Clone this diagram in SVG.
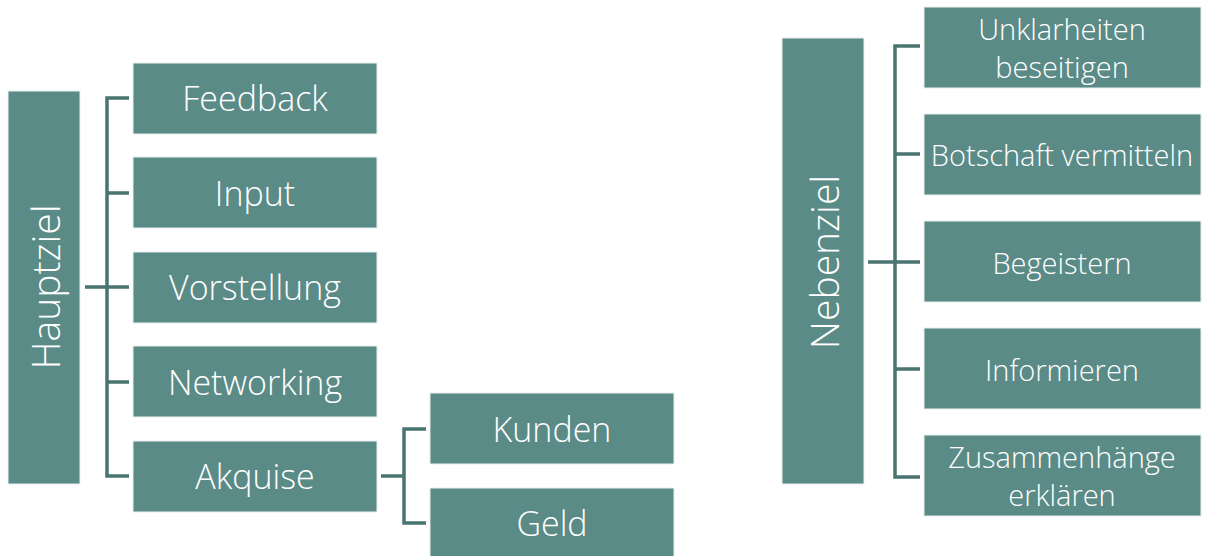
<svg xmlns="http://www.w3.org/2000/svg" width="1205" height="556" viewBox="0 0 1205 556">
<style>
.box{fill:#5B8B87;stroke:#E8EFEE;stroke-width:1}
.t{font-family:"Open Sans","Liberation Sans",sans-serif;font-weight:300;fill:#FFFFFF;text-anchor:middle;dominant-baseline:central}
.l{font-size:34px}
.v{font-size:39px}
.r{font-size:29px}
.c{fill:none;stroke:#4A7472;stroke-width:3.5}
</style>
<rect width="1205" height="556" fill="#FFFFFF"/>
<g id="connectors">
<path class="c" d="M85 287H107M129 98H107V476H129M107 193H129M107 287H129M107 382H129"/>
<path class="c" d="M381 476H404M426 429H404V523H426"/>
<path class="c" d="M868 262H895M920 46H895V477H920M895 154H920M895 262H920M895 369H920"/>
</g>
<g id="hauptziel"><rect class="box" x="8" y="91" width="72" height="393"/><text class="t v" transform="translate(44 287) rotate(-90)">Hauptziel</text></g>
<g id="feedback"><rect class="box" x="133" y="63" width="244" height="71"/><text class="t l" x="255" y="98">Feedback</text></g>
<g id="input"><rect class="box" x="133" y="157" width="244" height="71"/><text class="t l" x="255" y="193">Input</text></g>
<g id="vorstellung"><rect class="box" x="133" y="252" width="244" height="71"/><text class="t l" x="255" y="287">Vorstellung</text></g>
<g id="networking"><rect class="box" x="133" y="346" width="244" height="71"/><text class="t l" x="255" y="382">Networking</text></g>
<g id="akquise"><rect class="box" x="133" y="441" width="244" height="71"/><text class="t l" x="255" y="476">Akquise</text></g>
<g id="kunden"><rect class="box" x="430" y="393" width="244" height="71"/><text class="t l" x="552" y="429">Kunden</text></g>
<g id="geld"><rect class="box" x="430" y="488" width="244" height="71"/><text class="t l" x="552" y="523">Geld</text></g>
<g id="nebenziel"><rect class="box" x="782" y="38" width="82" height="446"/><text class="t v" transform="translate(823 262) rotate(-90)">Nebenziel</text></g>
<g id="unklarheiten"><rect class="box" x="924" y="7" width="277" height="81"/><text class="t r" x="1062" y="28">Unklarheiten</text><text class="t r" x="1062" y="66">beseitigen</text></g>
<g id="botschaft"><rect class="box" x="924" y="114" width="277" height="81"/><text class="t r" x="1062" y="154">Botschaft vermitteln</text></g>
<g id="begeistern"><rect class="box" x="924" y="221" width="277" height="81"/><text class="t r" x="1062" y="262">Begeistern</text></g>
<g id="informieren"><rect class="box" x="924" y="328" width="277" height="81"/><text class="t r" x="1062" y="369">Informieren</text></g>
<g id="zusammenhaenge"><rect class="box" x="924" y="435" width="277" height="81"/><text class="t r" x="1062" y="456">Zusammenhänge</text><text class="t r" x="1062" y="494">erklären</text></g>
</svg>
